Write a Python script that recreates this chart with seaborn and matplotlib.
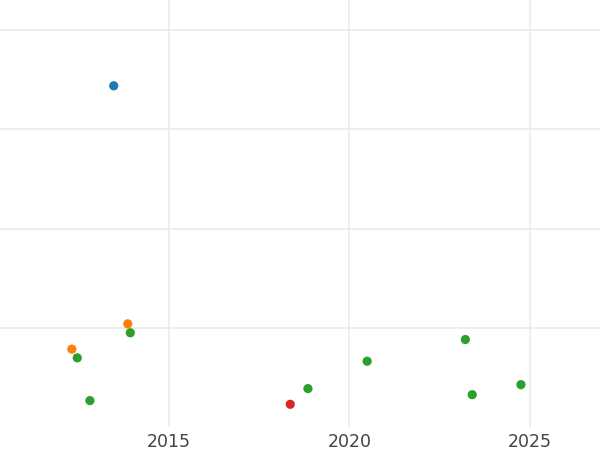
import matplotlib
matplotlib.use("Agg")
import matplotlib.pyplot as plt
import seaborn as sns
import pandas as pd

# Data
years = [2013.47, 2013.86, 2013.93, 2012.31, 2012.46, 2012.81,
         2018.36, 2018.85, 2020.49, 2023.21, 2023.40, 2024.75]
values = [344, 104, 95, 78.5, 69.7, 26.6,
          22.9, 38.7, 66.3, 88.2, 32.6, 42.7]
groups = ["A", "B", "C", "B", "C", "C",
          "D", "C", "C", "C", "C", "C"]
group_order = ["A", "B", "C", "D"]
x_ticks = [2015, 2020, 2025]
y_ticks = [100, 200, 300, 400]

df = pd.DataFrame({"year": years, "value": values, "group": groups})

sns.set_theme(style="whitegrid")
plt.rcParams["font.family"] = ["DejaVu Sans"]

fig = plt.figure(figsize=(6, 4.5), dpi=100)
ax = fig.add_axes([0, 23 / 450, 1, 1 - 23 / 450])

sns.scatterplot(data=df, x="year", y="value", hue="group",
                hue_order=group_order, palette="tab10",
                s=44, linewidth=0, legend=False, ax=ax, zorder=3)

ax.set_xlim(2010.32, 2026.94)
ax.set_ylim(0, 430.5)
ax.set_xticks(x_ticks)
ax.set_yticks(y_ticks)
ax.set_yticklabels([])
ax.set_xlabel("")
ax.set_ylabel("")
ax.tick_params(axis="both", length=0)
ax.tick_params(axis="x", labelsize=12.5, labelcolor="#444444", pad=4.5)
ax.grid(True, color="#ebebeb", linewidth=1.2)
for sp in ax.spines.values():
    sp.set_visible(False)

fig.savefig("out.png", dpi=100)
